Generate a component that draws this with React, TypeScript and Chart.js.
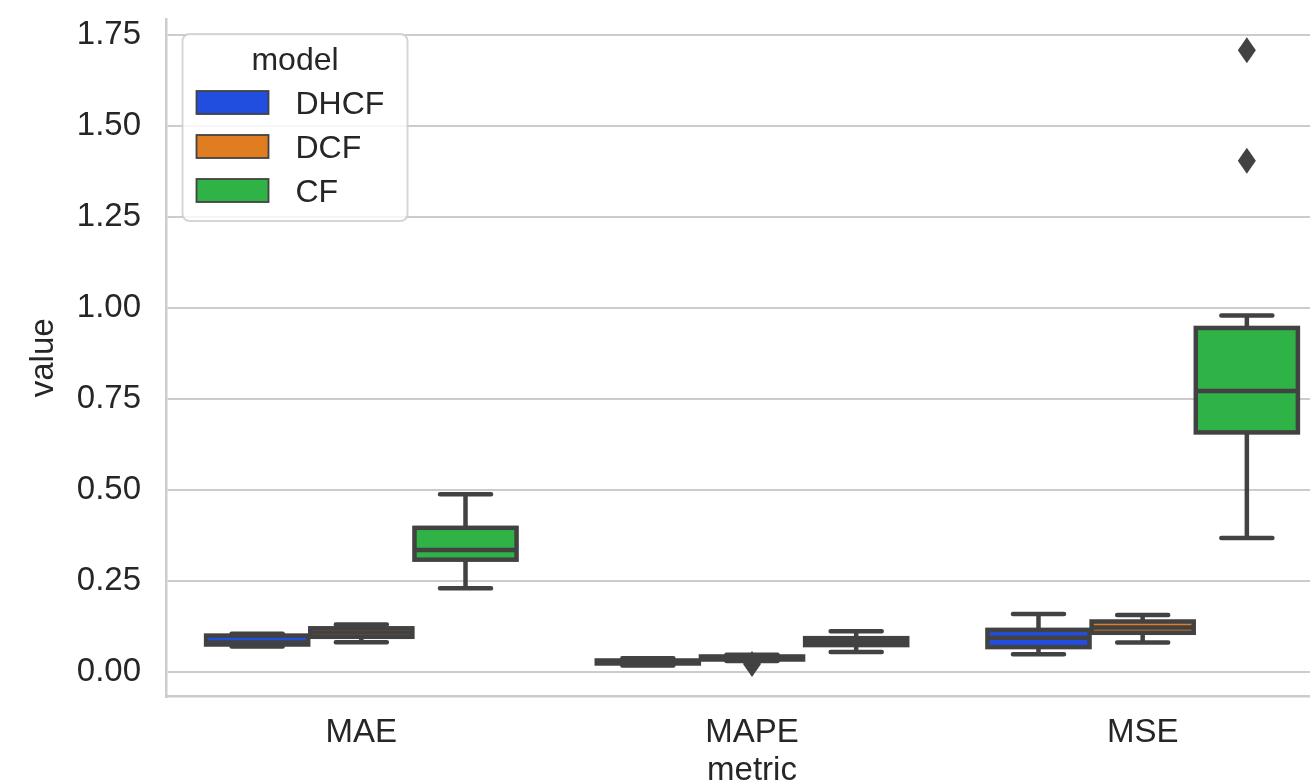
import React, { useEffect, useRef } from 'react';
import { Chart, registerables } from 'chart.js';

Chart.register(...registerables);

const metrics = ['MAE', 'MAPE', 'MSE'];
const models = ['DHCF', 'DCF', 'CF'];
const modelColors = ['#224edf', '#df7d20', '#30b346'];

// rows: model (DHCF, DCF, CF); columns: metric (MAE, MAPE, MSE)
const whiskerLow = [
  [0.070, 0.018, 0.049],
  [0.082, 0.030, 0.081],
  [0.230, 0.055, 0.368],
];
const q1 = [
  [0.0755, 0.0234, 0.0684],
  [0.0967, 0.0343, 0.1077],
  [0.3085, 0.0739, 0.658],
];
const medians = [
  [0.081, 0.027, 0.094],
  [0.1085, 0.0385, 0.122],
  [0.335, 0.085, 0.772],
];
const q3 = [
  [0.100, 0.0316, 0.1157],
  [0.120, 0.0426, 0.1387],
  [0.396, 0.0929, 0.945],
];
const whiskerHigh = [
  [0.105, 0.0376, 0.159],
  [0.1305, 0.0475, 0.1566],
  [0.488, 0.112, 0.979],
];
const outlierModel = [1, 2, 2];
const outlierMetric = [1, 2, 2];
const outlierValue = [0.022, 1.404, 1.708];

const yTicks = [0, 0.25, 0.5, 0.75, 1.0, 1.25, 1.5, 1.75];
const yMin = -0.0676;
const yMax = 1.7936;

const GRAY = '#424242';
const TEXT = '#262626';
const FONT = '"Liberation Sans", Arial, Helvetica, sans-serif';

Chart.defaults.font.family = FONT;

const boxPlugin = {
  id: 'boxParts',
  afterDatasetsDraw(chart: any) {
    const ctx = chart.ctx as CanvasRenderingContext2D;
    const ys = chart.scales.y;
    ctx.save();
    ctx.strokeStyle = GRAY;
    ctx.lineWidth = 4.5;
    models.forEach((_, i) => {
      const meta = chart.getDatasetMeta(i);
      metrics.forEach((_, j) => {
        const el = meta.data[j];
        const x = el.x;
        const w = el.width;
        const yq1 = ys.getPixelForValue(q1[i][j]);
        const yq3 = ys.getPixelForValue(q3[i][j]);
        const ymed = ys.getPixelForValue(medians[i][j]);
        const ylo = ys.getPixelForValue(whiskerLow[i][j]);
        const yhi = ys.getPixelForValue(whiskerHigh[i][j]);
        ctx.lineJoin = 'miter';
        ctx.lineCap = 'butt';
        ctx.strokeRect(x - w / 2, yq3, w, yq1 - yq3);
        ctx.beginPath();
        ctx.moveTo(x, yq3);
        ctx.lineTo(x, yhi);
        ctx.moveTo(x, yq1);
        ctx.lineTo(x, ylo);
        ctx.stroke();
        ctx.lineCap = 'round';
        ctx.beginPath();
        ctx.moveTo(x - w / 4, yhi);
        ctx.lineTo(x + w / 4, yhi);
        ctx.moveTo(x - w / 4, ylo);
        ctx.lineTo(x + w / 4, ylo);
        ctx.stroke();
        ctx.lineCap = 'butt';
        ctx.beginPath();
        ctx.moveTo(x - w / 2, ymed);
        ctx.lineTo(x + w / 2, ymed);
        ctx.stroke();
      });
    });
    ctx.fillStyle = GRAY;
    outlierValue.forEach((v, k) => {
      const el = chart.getDatasetMeta(outlierModel[k]).data[outlierMetric[k]];
      const cx = el.x;
      const cy = ys.getPixelForValue(v);
      ctx.beginPath();
      ctx.moveTo(cx, cy - 13);
      ctx.lineTo(cx + 9, cy);
      ctx.lineTo(cx, cy + 13);
      ctx.lineTo(cx - 9, cy);
      ctx.closePath();
      ctx.fill();
    });
    ctx.restore();
  },
};

const legendPlugin = {
  id: 'modelLegend',
  afterDraw(chart: any) {
    const ctx = chart.ctx as CanvasRenderingContext2D;
    const area = chart.chartArea;
    const left = area.left + 16.5;
    const top = area.top + 15;
    const w = 225;
    const h = 187;
    ctx.save();
    ctx.beginPath();
    (ctx as any).roundRect(left, top, w, h, 7);
    ctx.fillStyle = 'rgba(255,255,255,0.8)';
    ctx.fill();
    ctx.strokeStyle = 'rgba(204,204,204,0.8)';
    ctx.lineWidth = 2;
    ctx.stroke();
    ctx.font = `32px ${FONT}`;
    ctx.fillStyle = TEXT;
    ctx.textAlign = 'center';
    ctx.textBaseline = 'alphabetic';
    ctx.fillText('model', left + w / 2, top + 36);
    models.forEach((m, k) => {
      const py = top + 57 + k * 44;
      ctx.fillStyle = modelColors[k];
      ctx.fillRect(left + 14, py, 72, 23);
      ctx.strokeStyle = GRAY;
      ctx.lineWidth = 1.8;
      ctx.strokeRect(left + 14, py, 72, 23);
      ctx.fillStyle = TEXT;
      ctx.textAlign = 'left';
      ctx.fillText(m, left + 113, py + 11.5 + 11);
    });
    ctx.restore();
  },
};

export default function App() {
  const ref = useRef<HTMLCanvasElement>(null);
  useEffect(() => {
    const canvas = ref.current as HTMLCanvasElement;
    const chart = new Chart(canvas, {
      type: 'bar',
      data: {
        labels: metrics,
        datasets: models.map((m, i) => ({
          label: m,
          data: metrics.map((_, j) => [q1[i][j], q3[i][j]]),
          backgroundColor: modelColors[i],
          borderWidth: 0,
          categoryPercentage: 0.8,
          barPercentage: 0.98,
        })),
      },
      options: {
        responsive: false,
        animation: false,
        layout: { padding: { top: 19, right: 2, left: 0, bottom: 0 } },
        plugins: { legend: { display: false }, tooltip: { enabled: false } },
        scales: {
          x: {
            grid: { display: false },
            border: { display: true, color: '#cccccc', width: 2.5 },
            ticks: { color: TEXT, font: { size: 33 }, padding: 9 },
            title: {
              display: true,
              text: 'metric',
              color: TEXT,
              font: { size: 33 },
              padding: { top: 0, bottom: 9 },
            },
            afterFit: (s: any) => {
              s.height = 103.4;
            },
          },
          y: {
            min: yMin,
            max: yMax,
            afterBuildTicks: (s: any) => {
              s.ticks = yTicks.map((v) => ({ value: v }));
            },
            grid: {
              color: '#cccccc',
              lineWidth: 2,
              drawTicks: true,
              tickLength: 25,
              tickColor: 'rgba(0,0,0,0)',
            },
            border: { display: true, color: '#cccccc', width: 2.5 },
            ticks: {
              color: TEXT,
              font: { size: 33, lineHeight: 1 },
              padding: 0,
              callback: (v: any) => Number(v).toFixed(2),
            },
            title: {
              display: true,
              text: 'value',
              color: TEXT,
              font: { size: 33 },
              padding: { top: 24, bottom: 0 },
            },
            afterFit: (s: any) => {
              s.width = 166;
            },
          },
        },
      },
      plugins: [boxPlugin, legendPlugin],
    } as any);
    return () => chart.destroy();
  }, []);
  return (
    <div
      style={{
        position: 'absolute',
        left: 0,
        top: 0,
        width: 1310,
        height: 781,
        overflow: 'hidden',
        background: '#ffffff',
      }}
    >
      <canvas ref={ref} width={1340} height={800} style={{ display: 'block', width: 1340, height: 800 }} />
    </div>
  );
}
